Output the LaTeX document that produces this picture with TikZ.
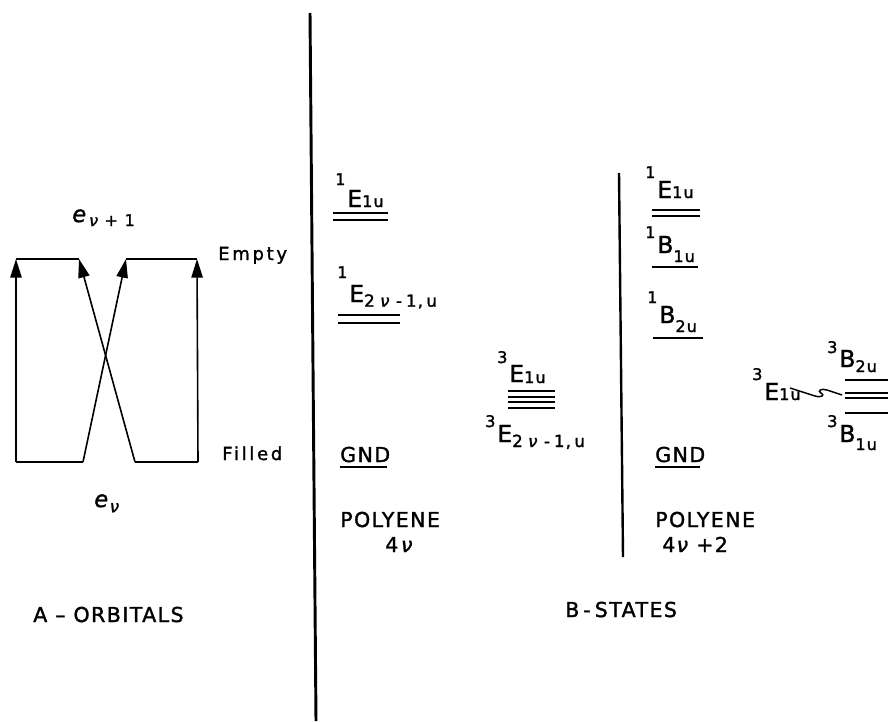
\documentclass[tikz,border=0pt]{standalone}
\usepackage{fontspec}
\setmainfont{DejaVu Sans}[LetterSpace=7,FakeBold=1.6]
\newfontfamily\wfont{DejaVu Sans}[LetterSpace=15,FakeBold=1.6]
\usetikzlibrary{arrows.meta}
\newcommand\subf{\fontsize{12}{12}\selectfont}
\newcommand\lvl[5]{\raisebox{#4}{\subf #1}\hspace{1.5pt}#2\raisebox{-#5}{\subf #3}}
\newcommand\nusub{\fontsize{12.5}{12}\selectfont 2\hspace{4pt}\textit{ν}\hspace{4pt}-\hspace{3pt}1,\hspace{2.5pt}u}
\tikzset{
  lab/.style={anchor=base west,inner sep=0pt,font=\fontsize{17.5}{18}\selectfont},
  txt/.style={anchor=base west,inner sep=0pt,font=\fontsize{15.4}{16}\selectfont},
  side/.style={anchor=base west,inner sep=0pt,font=\wfont\fontsize{13.5}{14}\selectfont},
  orb/.style={anchor=base west,inner sep=0pt,font=\fontsize{17}{18}\selectfont},
  level/.style={line width=1.6pt},
  orbline/.style={line width=1.4pt},
  trans/.style={line width=1.2pt,-{Triangle[length=14pt,width=8.5pt]}},
  divider/.style={line width=2.2pt}
}
\begin{document}
\begin{tikzpicture}[x=0.75pt,y=-0.75pt]
\clip (0,0) rectangle (888,721);
\fill[white] (0,0) rectangle (888,721);

% dividers
\draw[divider] (310,13) -- (316,721);
\draw[line width=1.8pt] (619,173) -- (623,557);

% ---------- A: orbitals ----------
\coordinate (fl1) at (16,462);
\coordinate (fl2) at (83,462);
\coordinate (fr1) at (135,462);
\coordinate (fr2) at (198,462);
\coordinate (el1) at (16,259);
\coordinate (el2) at (79,259);
\coordinate (er1) at (126,259);
\coordinate (er2) at (197,259);
\draw[orbline] (fl1) -- (fl2);
\draw[orbline] (fr1) -- (fr2);
\draw[orbline] (el1) -- (el2);
\draw[orbline] (er1) -- (er2);
\draw[trans] (fl1) -- (el1);
\draw[trans] (fl2) -- (er1);
\draw[trans] (fr1) -- (el2);
\draw[trans] (fr2) -- (er2);

\node[orb] (eup) at (72,222) {\textit{e}\raisebox{-3pt}{\fontsize{12}{12}\selectfont\hspace{1pt}\textit{ν}\hspace{4pt}+\hspace{5pt}1}};
\node[orb] (edn) at (94,507) {\textit{e}\raisebox{-4pt}{\fontsize{12.5}{12}\selectfont\textit{ν}}};
\node[side] (empty) at (218,260) {Empty};
\node[side] (filled) at (222,460) {Filled};
\node[txt] (aorb) at (33,622) {A – ORBITALS};

% ---------- B: states, polyene 4nu ----------
\node[lab] (l1) at (335,207) {\lvl{1}{E}{1u}{16.5pt}{0pt}};
\draw[level] (333,213) -- (388,213);
\draw[level] (333,220) -- (388,220);
\node[lab] (l2) at (337,302) {\lvl{1}{E}{\nusub}{18pt}{3.5pt}};
\draw[level] (338,315) -- (400,315);
\draw[level] (338,323) -- (400,323);

\node[lab] (l3) at (497,382) {\lvl{3}{E}{1u}{14.25pt}{0.75pt}};
\draw[level] (508,391) -- (555,391);
\draw[level] (508,397) -- (555,397);
\draw[level] (508,402) -- (555,402);
\draw[level] (508,408) -- (555,408);
\node[lab] (l4) at (485,442) {\lvl{3}{E}{\nusub}{11.25pt}{3.75pt}};

\node[txt] (gnd1) at (340,462) {GND};
\draw[level] (340,467) -- (387,467);
\node[txt] (poly1) at (340,527) {POLYENE};
\node[txt] (n1) at (385,552) {4\hspace{2pt}\textit{ν}};

% ---------- polyene 4nu+2 ----------
\node[lab] (r1) at (645,198) {\lvl{1}{E}{1u}{15pt}{0pt}};
\draw[level] (652,210) -- (700,210);
\draw[level] (652,216) -- (700,216);
\node[lab] (r2) at (645,253) {\lvl{1}{B}{1u}{11.25pt}{6.75pt}};
\draw[level] (652,267) -- (698,267);
\node[lab] (r3) at (647,323) {\lvl{1}{B}{2u}{15pt}{6.75pt}};
\draw[level] (653,338) -- (703,338);

\node[lab] (r4) at (752,400) {\lvl{3}{E}{1u}{15pt}{0pt}};
\node[lab] (r5) at (827,367) {\lvl{3}{B}{2u}{10.5pt}{3.75pt}};
\node[lab] (r6) at (827,442) {\lvl{3}{B}{1u}{11.25pt}{6pt}};
\draw[level] (845,380) -- (892,380);
\draw[level] (845,393) -- (892,393);
\draw[level] (845,398) -- (892,398);
\draw[level] (845,413) -- (892,413);
\draw[line width=1.1pt] (790,388) -- (815,396)
   .. controls (822,398) and (825,395) .. (821,393)
   .. controls (817,391) and (821,388) .. (827,390) -- (842,395);

\node[txt] (gnd2) at (655,462) {GND};
\draw[level] (655,467) -- (700,467);
\node[txt] (poly2) at (655,527) {POLYENE};
\node[txt] (n2) at (662,552) {4\hspace{1pt}\textit{ν}\hspace{5pt}+2};

\node[txt] (bst) at (565,617) {B\hspace{3pt}-\hspace{3pt}STATES};
\end{tikzpicture}
\end{document}
